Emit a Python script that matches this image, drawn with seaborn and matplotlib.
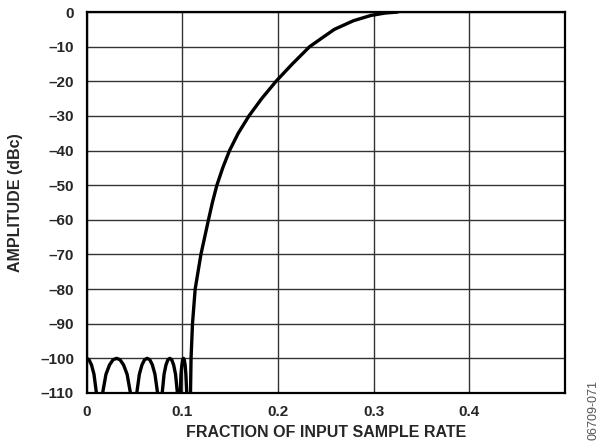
import numpy as np
import pandas as pd
import seaborn as sns
import matplotlib.pyplot as plt

# data (fraction of fs, amplitude in dBc)
freq = [
    0.0000, 0.0026, 0.0052, 0.0078, 0.0104, 0.0130,
    0.0167, 0.0203, 0.0240, 0.0277, 0.0314, 0.0350, 0.0387, 0.0424, 0.0460, 0.0497,
    0.0524, 0.0552, 0.0579, 0.0606, 0.0634, 0.0661, 0.0688, 0.0715, 0.0743, 0.0770,
    0.0790, 0.0810, 0.0830, 0.0850, 0.0870, 0.0890, 0.0910, 0.0930, 0.0950, 0.0970,
    0.0979, 0.0987, 0.0996, 0.1004, 0.1013, 0.1021, 0.1030, 0.1038, 0.1047, 0.1055,
    0.1085, 0.1092, 0.1107, 0.1135, 0.1195, 0.1274, 0.1315, 0.1362, 0.1423, 0.1494,
    0.1585, 0.1697, 0.1830, 0.1980, 0.2150, 0.2331, 0.2460, 0.2590, 0.2790, 0.2970,
    0.3120, 0.3250,
]
amplitude = [
    -100.0, -100.4, -101.9, -104.6, -110.2, -125.0,
    -110.2, -104.6, -101.9, -100.4, -100.0, -100.4, -101.9, -104.6, -110.2, -125.0,
    -110.2, -104.6, -101.9, -100.4, -100.0, -100.4, -101.9, -104.6, -110.2, -125.0,
    -110.2, -104.6, -101.9, -100.4, -100.0, -100.4, -101.9, -104.6, -110.2, -125.0,
    -110.2, -104.6, -101.9, -100.4, -100.0, -100.4, -101.9, -104.6, -110.2, -125.0,
    -112.0, -100.0, -90.0, -80.0, -70.0, -60.0, -55.0, -50.0, -45.0, -40.0,
    -35.0, -30.0, -25.0, -20.0, -15.0, -10.0, -7.5, -5.0, -2.5, -1.0,
    -0.3, 0.0,
]
x_ticks = [0, 0.1, 0.2, 0.3, 0.4]
x_tick_labels = ["0", "0.1", "0.2", "0.3", "0.4"]
y_ticks = list(range(0, -120, -10))
y_tick_labels = ["0"] + ["\u2013" + str(abs(v)) for v in y_ticks[1:]]

df = pd.DataFrame({"freq": freq, "amp": amplitude})

sns.set_style("white")
plt.rcParams["font.family"] = ["Liberation Sans", "DejaVu Sans"]

fig = plt.figure(figsize=(5.98, 4.48), dpi=100)
ax = fig.add_axes([0.1447, 0.1228, 0.8003, 0.8504])

sns.lineplot(data=df, x="freq", y="amp", sort=False, estimator=None,
             color="black", linewidth=2.4, ax=ax, zorder=3)

ax.set_xlim(0, 0.5)
ax.set_ylim(-110, 0)
ax.set_xticks(x_ticks)
ax.set_xticklabels(x_tick_labels, fontsize=11, fontweight="bold")
ax.set_yticks(y_ticks)
ax.set_yticklabels(y_tick_labels, fontsize=11, fontweight="bold")
ax.set_xticks([0.5], minor=True)
ax.tick_params(axis="both", which="both", length=0)
ax.tick_params(axis="x", pad=9)
ax.tick_params(axis="y", pad=9)

ax.grid(True, which="both", color="#333333", linewidth=1.0)
for s in ax.spines.values():
    s.set_color("black")
    s.set_linewidth(1.6)

ax.set_xlabel("FRACTION OF INPUT SAMPLE RATE", fontsize=11.5, fontweight="bold", labelpad=4)
ax.set_ylabel("AMPLITUDE (dBc)", fontsize=11.5, fontweight="bold", labelpad=12)

fig.text(0.992, 0.085, "06709-071", rotation=90, fontsize=9, color="#555555",
         ha="center", va="center")

fig.savefig("out.png", dpi=100)
plt.close(fig)
